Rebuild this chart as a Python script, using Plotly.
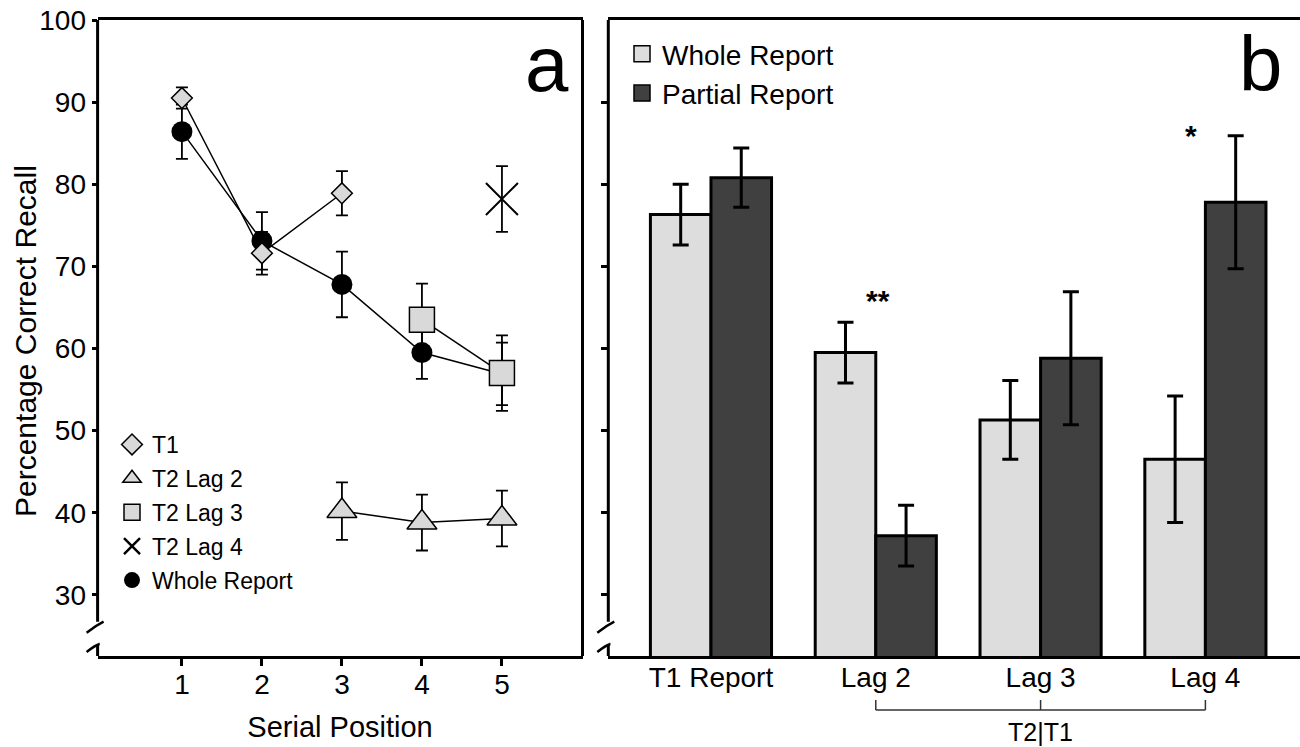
import plotly.graph_objects as go

# ---------------- data: panel a ----------------
whole_x = [1, 2, 3, 4, 5]
whole_y = [86.4, 73.1, 67.8, 59.5, 56.9]
whole_err = [3.3, 3.5, 4.0, 3.2, 3.8]

t1_x = [1, 2, 3]
t1_y = [90.5, 71.6, 78.9]
t1_err = [1.3, 2.6, 2.7]

lag2_x = [3, 4, 5]
lag2_y = [40.2, 38.8, 39.3]
lag2_err = [3.5, 3.4, 3.4]

lag3_x = [4, 5]
lag3_y = [63.5, 57.0]
lag3_err = [4.4, 4.6]

lag4_x = [5]
lag4_y = [78.2]
lag4_err = [4.0]

a_ticks = [1, 2, 3, 4, 5]
y_ticks = [30, 40, 50, 60, 70, 80, 90, 100]

# ---------------- data: panel b ----------------
categories = ["T1 Report", "Lag 2", "Lag 3", "Lag 4"]
wr_vals = [76.3, 59.5, 51.3, 46.5]
wr_err = [3.7, 3.7, 4.8, 7.7]
pr_vals = [80.8, 37.2, 58.8, 77.8]
pr_err = [3.6, 3.7, 8.1, 8.1]

# The page body margin is removed (see post_script), so the figure fills the window.
W, H = 1300, 747

def fx(X):  # window pixel -> paper x
    return X / W

def fy(Y):  # window pixel -> paper y
    return 1 - Y / H

FONT = "Liberation Sans, Arial, Helvetica, sans-serif"
GRAY = "#d9d9d9"
DARK = "#404040"

# layout geometry (window pixels)
A_L, A_R = 97.6, 582.5
B_L = 608.3
P_T, P_B = 20.0, 656.0
ydom = [fy(P_B), fy(P_T)]
YR = [22.55, 100]

fig = go.Figure()

def err(vals, w=6, t=1.8):
    return dict(type="data", array=vals, visible=True, color="black", thickness=t, width=w)

line_style = dict(color="black", width=1.5)

fig.add_trace(go.Scatter(x=whole_x, y=whole_y, mode="lines+markers", error_y=err(whole_err),
                         line=line_style, marker=dict(symbol="circle", size=21, color="black"),
                         showlegend=False, xaxis="x", yaxis="y"))
fig.add_trace(go.Scatter(x=t1_x, y=t1_y, mode="lines+markers", error_y=err(t1_err),
                         line=line_style, marker=dict(symbol="diamond", size=16, color=GRAY,
                                                      line=dict(color="black", width=1.5)),
                         showlegend=False, xaxis="x", yaxis="y"))
fig.add_trace(go.Scatter(x=lag2_x, y=lag2_y, mode="lines+markers", error_y=err(lag2_err),
                         line=line_style, marker=dict(symbol="triangle-up", size=26, color=GRAY,
                                                      line=dict(color="black", width=1.5)),
                         showlegend=False, xaxis="x", yaxis="y"))
fig.add_trace(go.Scatter(x=lag3_x, y=lag3_y, mode="lines+markers", error_y=err(lag3_err),
                         line=line_style, marker=dict(symbol="square", size=25, color=GRAY,
                                                      line=dict(color="black", width=1.5)),
                         showlegend=False, xaxis="x", yaxis="y"))
fig.add_trace(go.Scatter(x=lag4_x, y=lag4_y, mode="markers", error_y=err(lag4_err),
                         marker=dict(symbol="x-thin", size=32, color="black",
                                     line=dict(color="black", width=2)),
                         showlegend=False, xaxis="x", yaxis="y"))

# legend entries for panel a (marker only, as in the reference)
leg_a = [
    ("T1", dict(symbol="diamond", size=16, color=GRAY, line=dict(color="black", width=1.5))),
    ("T2 Lag 2", dict(symbol="triangle-up", size=16, color=GRAY, line=dict(color="black", width=1.5))),
    ("T2 Lag 3", dict(symbol="square", size=16, color=GRAY, line=dict(color="black", width=1.5))),
    ("T2 Lag 4", dict(symbol="x-thin", size=16, color="black", line=dict(color="black", width=2.5))),
    ("Whole Report", dict(symbol="circle", size=16, color="black")),
]
for i, (name, mk) in enumerate(leg_a):
    fig.add_trace(go.Scatter(x=[None], y=[None], mode="markers", name=name, marker=mk,
                             legend="legend", legendgroup="a%d" % i, xaxis="x", yaxis="y"))

# panel b bars
fig.add_trace(go.Bar(x=categories, y=wr_vals, name="Whole Report", error_y=err(wr_err, 8, 3),
                     marker=dict(color="#dddddd", line=dict(color="black", width=3)),
                     showlegend=False, xaxis="x2", yaxis="y2"))
fig.add_trace(go.Bar(x=categories, y=pr_vals, name="Partial Report", error_y=err(pr_err, 8, 3),
                     marker=dict(color=DARK, line=dict(color="black", width=3)),
                     showlegend=False, xaxis="x2", yaxis="y2"))
for name, col in [("Whole Report", "#dddddd"), ("Partial Report", DARK)]:
    fig.add_trace(go.Scatter(x=[None], y=[None], mode="markers", name=name,
                             marker=dict(symbol="square", size=16, color=col,
                                         line=dict(color="black", width=1.5)),
                             legend="legend2", xaxis="x2", yaxis="y2"))

tickfont = dict(family=FONT, size=28, color="black")
common = dict(showgrid=False, zeroline=False, automargin=False)
xdom_a = [fx(A_L), fx(A_R)]
XR_A = [-0.054, 6.007]

fig.update_layout(
    width=W, height=H, autosize=False,
    margin=dict(l=0, r=0, t=0, b=0),
    paper_bgcolor="white", plot_bgcolor="white",
    font=dict(family=FONT, color="black"),
    barmode="group", bargap=0.265, bargroupgap=0,
    xaxis=dict(domain=xdom_a, range=XR_A, tickvals=a_ticks,
               ticks="outside", ticklen=7, tickwidth=2.5, tickcolor="black",
               showline=True, linewidth=3, linecolor="black", mirror=True,
               tickfont=tickfont, anchor="y", ticklabelstandoff=-6,
               title=dict(text="Serial Position", font=dict(family=FONT, size=29), standoff=19),
               **common),
    yaxis=dict(domain=ydom, range=YR, tickvals=y_ticks, ticks="outside", ticklen=5,
               tickwidth=2.5, tickcolor="black", showline=False, tickfont=tickfont, anchor="x",
               ticklabeloverflow="allow", **common),
    xaxis3=dict(domain=xdom_a, range=XR_A, tickvals=a_ticks,
                ticks="inside", ticklen=6, tickwidth=2.5, tickcolor="black",
                showticklabels=False, showline=False, overlaying="x", anchor="y", **common),
    yaxis3=dict(domain=ydom, range=YR, tickvals=y_ticks, ticks="inside", ticklen=5,
                tickwidth=2.5, tickcolor="black", showticklabels=False, showline=False,
                overlaying="y", anchor="x", **common),
    xaxis2=dict(domain=[fx(B_L), 1.0], range=[-0.623, 3.574], type="category",
                ticks="", showline=True, linewidth=3, linecolor="black", mirror=True,
                ticklabelstandoff=-6,
                tickfont=dict(family=FONT, size=28, color="black"), anchor="y2", **common),
    yaxis2=dict(domain=ydom, range=YR, tickvals=y_ticks[:-1], ticks="outside", ticklen=6,
                tickwidth=2.5, tickcolor="black", showticklabels=False, showline=False,
                anchor="x2", **common),
    yaxis4=dict(domain=ydom, range=YR, tickvals=y_ticks[:-1], ticks="inside", ticklen=6,
                tickwidth=2.5, tickcolor="black", showticklabels=False, showline=False,
                overlaying="y2", anchor="x2", **common),
    legend=dict(x=fx(112), y=fy(423), xanchor="left", yanchor="top",
                bgcolor="rgba(0,0,0,0)", font=dict(family=FONT, size=23),
                traceorder="grouped", tracegroupgap=1),
    legend2=dict(x=fx(622), y=fy(29), xanchor="left", yanchor="top",
                 bgcolor="rgba(0,0,0,0)", font=dict(family=FONT, size=28)),
)

# left axis lines with a break, plus right border of panel a
brk_hi = (P_B - 621.7) / (P_B - P_T)
brk_lo = (P_B - 645.0) / (P_B - P_T)
shapes = []
for xr, yr in [("x domain", "y domain"), ("x2 domain", "y2 domain")]:
    shapes.append(dict(type="line", xref=xr, yref=yr, x0=0, x1=0, y0=brk_hi, y1=1,
                       line=dict(color="black", width=3)))
    shapes.append(dict(type="line", xref=xr, yref=yr, x0=0, x1=0, y0=0, y1=brk_lo,
                       line=dict(color="black", width=3)))
    shapes.append(dict(type="path", xref=xr, yref=yr, xsizemode="pixel", ysizemode="pixel",
                       xanchor=0, yanchor=brk_hi, path="M-11,-11 Q-2,-4 6,0",
                       line=dict(color="black", width=2.5)))
    shapes.append(dict(type="path", xref=xr, yref=yr, xsizemode="pixel", ysizemode="pixel",
                       xanchor=0, yanchor=brk_lo, path="M-11,-7 Q-2,0 2,1 L1,1",
                       line=dict(color="black", width=2.5)))
shapes.append(dict(type="line", xref="x domain", yref="y domain", x0=1, x1=1, y0=0, y1=1,
                   line=dict(color="black", width=3)))

# T2|T1 bracket under Lag 2..Lag 4
br_y = fy(710)
br_t = fy(700)
bl = dict(color="#333333", width=1.5)
shapes.append(dict(type="line", xref="x2", yref="paper", x0=1, x1=3, y0=br_y, y1=br_y, line=bl))
for xi in [1, 2, 3]:
    shapes.append(dict(type="line", xref="x2", yref="paper", x0=xi, x1=xi, y0=br_y, y1=br_t, line=bl))
fig.update_layout(shapes=shapes)

annotations = [
    dict(text="Percentage Correct Recall", xref="paper", yref="paper", x=fx(25), y=fy(341),
         xanchor="center", yanchor="middle", textangle=-90, showarrow=False,
         font=dict(family=FONT, size=30)),
    dict(text="a", xref="x domain", yref="y domain", x=1, y=1, xanchor="right", yanchor="top",
         xshift=-12, yshift=2, showarrow=False, font=dict(family=FONT, size=78)),
    dict(text="b", xref="x2 domain", yref="y2 domain", x=1, y=1, xanchor="right", yanchor="top",
         xshift=-16, yshift=2, showarrow=False, font=dict(family=FONT, size=78)),
    dict(text="<b>**</b>", xref="x2", yref="y2", x=categories[1], y=66.2, yshift=-3, xshift=2,
         showarrow=False, font=dict(family=FONT, size=30)),
    dict(text="<b>*</b>", xref="x2", yref="y2", x=categories[3], y=86.2, yshift=-2, xshift=-14,
         showarrow=False, font=dict(family=FONT, size=30)),
    dict(text="T2|T1", xref="x2", yref="paper", x=categories[2], y=fy(732), yanchor="middle",
         showarrow=False, font=dict(family=FONT, size=25)),
]
fig.update_layout(annotations=annotations)

fig.write_html(
    "out.html",
    config={"displayModeBar": False},
    post_script="document.body.style.margin='0';document.body.style.overflow='hidden';",
)
